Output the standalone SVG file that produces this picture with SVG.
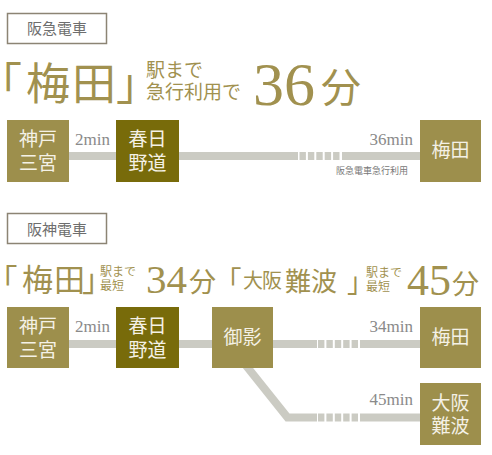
<svg xmlns="http://www.w3.org/2000/svg" width="492" height="455" viewBox="0 0 492 455">
<style>
.lab{fill:#fff;stroke:#8c8474;stroke-width:1.5}
.labt{font-family:"Noto Sans CJK JP",sans-serif;font-size:15px;fill:#6e6e6e;text-anchor:middle}
.gold{font-family:"Noto Sans CJK JP",sans-serif;fill:#A1914F}
.br{font-feature-settings:"halt" 1}
.num{font-family:"Liberation Serif",serif;fill:#A1914F}
.min{font-family:"Liberation Serif",serif;font-size:17px;fill:#8a8a8a}
.note{font-family:"Noto Sans CJK JP",sans-serif;font-size:9px;fill:#777}
.b1{fill:#9D8F4C}
.b2{fill:#786B0A}
.bt{font-family:"Noto Sans CJK JP",sans-serif;font-size:19px;fill:#f4f1e6;text-anchor:middle}
.ln{fill:none;stroke:#CBCBC3;stroke-width:8}
.ds{fill:none;stroke:#CBCBC3;stroke-width:8;stroke-dasharray:6.4 2}
</style>
<g id="label-hankyu"><rect class="lab" x="7.5" y="13.5" width="99" height="30"/><text class="labt" x="57" y="34">阪急電車</text></g>
<g id="headline-hankyu">
<text class="gold br" font-size="44" x="0" y="100">「</text>
<text class="gold" font-size="44" x="26" y="100">梅</text>
<text class="gold" font-size="44" x="72" y="100">田</text>
<text class="gold br" font-size="44" x="116" y="100">」</text>
<text class="gold" font-size="19" x="146" y="77">駅まで</text>
<text class="gold" font-size="19" x="146" y="99">急行利用で</text>
<text class="num" font-size="62" x="253" y="105">36</text>
<text class="gold" font-size="40" x="321" y="102">分</text>
</g>
<g id="connectors">
<path class="ln" d="M69 156H116M179 156H298M342 156H420"/>
<path class="ds" d="M299.5 156H340"/>
<path class="ln" d="M69 344H116M179 344H212M273 344H317M360 344H420"/>
<path class="ds" d="M318 344H358.5"/>
<path class="ln" d="M240 358L287.5 417.5H317M360 417.5H420"/>
<path class="ds" d="M318 417.5H358.5"/>
</g>
<text class="min" x="75" y="145">2min</text>
<text class="min" x="413" y="145" text-anchor="end">36min</text>
<text class="note" x="408" y="174" text-anchor="end">阪急電車急行利用</text>
<g id="n-kobe1"><rect class="b1" x="7" y="120" width="62" height="62"/><text class="bt" x="38" y="146">神戸</text><text class="bt" x="38" y="170">三宮</text></g>
<g id="n-kasuga1"><rect class="b2" x="116" y="120" width="63" height="62"/><text class="bt" x="147.5" y="146">春日</text><text class="bt" x="147.5" y="170">野道</text></g>
<g id="n-umeda1"><rect class="b1" x="420" y="120" width="61" height="62"/><text class="bt" x="450.5" y="157">梅田</text></g>

<g id="label-hanshin"><rect class="lab" x="7.5" y="213.5" width="99" height="30"/><text class="labt" x="57" y="235">阪神電車</text></g>
<g id="headline-hanshin">
<text class="gold br" font-size="31" x="2" y="291">「</text>
<text class="gold" font-size="31" x="22" y="291">梅</text>
<text class="gold" font-size="31" x="54" y="291">田</text>
<text class="gold br" font-size="31" x="82" y="291">」</text>
<text class="gold" font-size="12" x="100" y="276">駅まで</text>
<text class="gold" font-size="12" x="100" y="290">最短</text>
<text class="num" font-size="41" x="146" y="293">34</text>
<text class="gold" font-size="27" x="189" y="292">分</text>
<text class="gold br" font-size="27" x="228" y="291">「</text>
<text class="gold" font-size="20" x="243" y="288">大</text>
<text class="gold" font-size="20" x="262" y="288">阪</text>
<text class="gold" font-size="26" x="285" y="291">難</text>
<text class="gold" font-size="26" x="311" y="291">波</text>
<text class="gold br" font-size="27" x="347" y="292">」</text>
<text class="gold" font-size="12" x="366" y="277">駅まで</text>
<text class="gold" font-size="12" x="366" y="291">最短</text>
<text class="num" font-size="44" x="407" y="295">45</text>
<text class="gold" font-size="27" x="452" y="294">分</text>
</g>
<text class="min" x="75" y="332">2min</text>
<text class="min" x="413" y="332" text-anchor="end">34min</text>
<text class="min" x="413" y="405" text-anchor="end">45min</text>
<g id="n-kobe2"><rect class="b1" x="7" y="307" width="62" height="61"/><text class="bt" x="38" y="333">神戸</text><text class="bt" x="38" y="357">三宮</text></g>
<g id="n-kasuga2"><rect class="b2" x="116" y="307" width="63" height="61"/><text class="bt" x="147.5" y="333">春日</text><text class="bt" x="147.5" y="357">野道</text></g>
<g id="n-mikage"><rect class="b1" x="212" y="307" width="61" height="61"/><text class="bt" x="242.5" y="344">御影</text></g>
<g id="n-umeda2"><rect class="b1" x="420" y="307" width="61" height="61"/><text class="bt" x="450.5" y="344">梅田</text></g>
<g id="n-namba"><rect class="b1" x="420" y="383" width="61" height="62"/><text class="bt" x="450.5" y="410" font-size="18.5">大阪</text><text class="bt" x="450.5" y="433" font-size="18.5">難波</text></g>
</svg>
